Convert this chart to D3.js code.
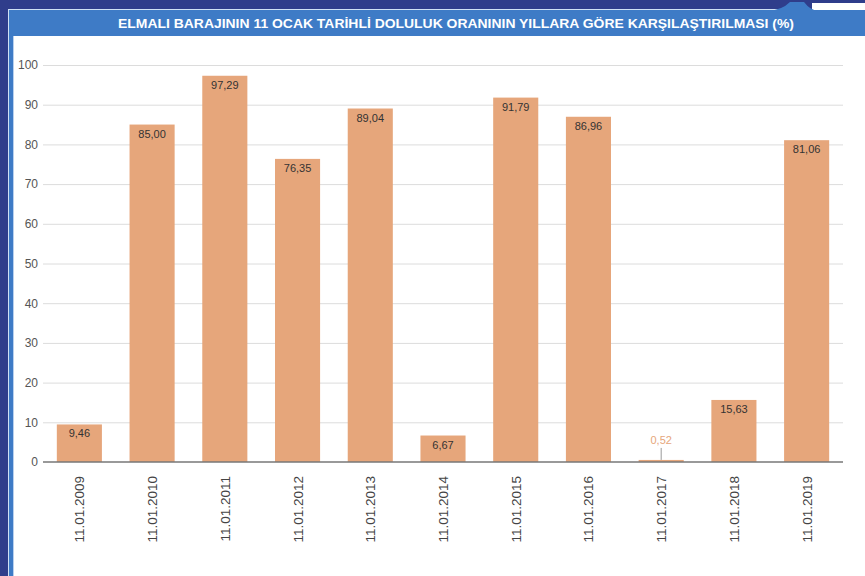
<!DOCTYPE html>
<html>
<head>
<meta charset="utf-8">
<script src="https://cdn.jsdelivr.net/npm/d3@7"></script>
<style>
  body { margin: 0; background: #fff; }
  svg { display: block; font-family: "Liberation Sans", Arial, sans-serif; }
</style>
</head>
<body>
<svg id="chart" width="865" height="576"></svg>
<script>
const dates = ["11.01.2009", "11.01.2010", "11.01.2011", "11.01.2012", "11.01.2013", "11.01.2014",
  "11.01.2015", "11.01.2016", "11.01.2017", "11.01.2018", "11.01.2019"];
const fillRates = [9.46, 85.00, 97.29, 76.35, 89.04, 6.67, 91.79, 86.96, 0.52, 15.63, 81.06];
const yTicks = [0, 10, 20, 30, 40, 50, 60, 70, 80, 90, 100];
const title = "ELMALI BARAJININ 11 OCAK TARİHLİ DOLULUK ORANININ YILLARA GÖRE KARŞILAŞTIRILMASI (%)";

const W = 865, H = 576;
const MARGINS = { top: 65, bottom: 114, left: 43, right: 22 };
const NAVY = "#2f3d8b", BLUE = "#3e7bc6", BAR = "#e6a67b";

const svg = d3.select("#chart");
const fmt = (v) => v.toFixed(2).replace(".", ",");

// frame
svg.append("rect").attr("width", W).attr("height", H).attr("fill", NAVY);
svg.append("rect").attr("x", 8).attr("y", 9).attr("width", W - 8).attr("height", H - 9).attr("fill", "#cfe0f4");
svg.append("rect").attr("x", 9).attr("y", 10).attr("width", W - 9).attr("height", H - 10).attr("fill", BLUE);
svg.append("rect").attr("x", 14).attr("y", 36).attr("width", W - 14).attr("height", H - 36).attr("fill", "#fff");
svg.append("rect").attr("x", 13).attr("y", 36).attr("width", 1).attr("height", H - 36).attr("fill", "#b8d0ee");

// white notch top right + tab
svg.append("rect").attr("x", 812).attr("y", 3).attr("width", W - 812).attr("height", 7).attr("fill", "#fff");
svg.append("path")
  .attr("d", "M 768 11 Q 782 10 790 2 L 804 2 Q 810 10 818 11 Z")
  .attr("fill", BLUE);

svg.append("text")
  .attr("x", 456)
  .attr("y", 28)
  .attr("text-anchor", "middle")
  .attr("fill", "#fff")
  .attr("font-weight", "bold")
  .attr("font-size", 12.5)
  .attr("textLength", 676)
  .attr("lengthAdjust", "spacingAndGlyphs")
  .text(title);

const x = d3.scaleBand()
  .domain(dates)
  .range([MARGINS.left, W - MARGINS.right])
  .paddingInner(0.38)
  .paddingOuter(0.19);

const y = d3.scaleLinear()
  .domain([0, 100])
  .range([H - MARGINS.bottom, MARGINS.top]);

// grid + y labels
const yAxis = svg.append("g")
  .attr("transform", `translate(${MARGINS.left}, 0)`)
  .call(d3.axisLeft(y).tickValues(yTicks).tickSize(0).tickPadding(5))
  .call((g) => g.select(".domain").remove());

yAxis.selectAll(".tick line").remove();
yAxis.selectAll(".tick")
  .filter((d) => d !== 0)
  .append("line")
  .attr("x1", 0)
  .attr("x2", W - MARGINS.right - MARGINS.left)
  .attr("stroke", "#dcdcdc")
  .attr("stroke-width", 1);
yAxis.selectAll(".tick text")
  .attr("fill", "#555")
  .attr("font-size", 12)
  .attr("font-family", "Liberation Sans, Arial, sans-serif");

// bars
svg.append("g")
  .selectAll("rect")
  .data(fillRates)
  .join("rect")
  .attr("x", (d, i) => x(dates[i]))
  .attr("y", (d) => y(d))
  .attr("width", x.bandwidth())
  .attr("height", (d) => y(0) - y(d))
  .attr("fill", BAR);

// baseline
svg.append("line")
  .attr("x1", MARGINS.left)
  .attr("x2", W - MARGINS.right)
  .attr("y1", y(0))
  .attr("y2", y(0))
  .attr("stroke", "#777")
  .attr("stroke-width", 1.5);

// value labels
const labels = svg.append("g");
fillRates.forEach((d, i) => {
  const cx = x(dates[i]) + x.bandwidth() / 2;
  if (d < 3) {
    labels.append("line")
      .attr("x1", cx).attr("x2", cx)
      .attr("y1", y(d) - 12).attr("y2", y(d))
      .attr("stroke", "#999");
    labels.append("text")
      .attr("x", cx)
      .attr("y", y(d) - 16)
      .attr("text-anchor", "middle")
      .attr("font-size", 11)
      .attr("fill", BAR)
      .text(fmt(d));
  } else {
    labels.append("text")
      .attr("x", cx)
      .attr("y", y(d) + 13)
      .attr("text-anchor", "middle")
      .attr("font-size", 11)
      .attr("fill", "#333")
      .text(fmt(d));
  }
});

// x labels
svg.append("g")
  .attr("transform", `translate(0, ${y(0)})`)
  .call(d3.axisBottom(x).tickSize(0).tickPadding(0))
  .call((g) => g.select(".domain").remove())
  .selectAll(".tick text")
  .attr("transform", "translate(5, 14) rotate(-90)")
  .attr("text-anchor", "end")
  .attr("dy", 0)
  .attr("y", 0)
  .attr("fill", "#444")
  .attr("font-size", 13.5)
  .attr("font-family", "Liberation Sans, Arial, sans-serif");
</script>
</body>
</html>
